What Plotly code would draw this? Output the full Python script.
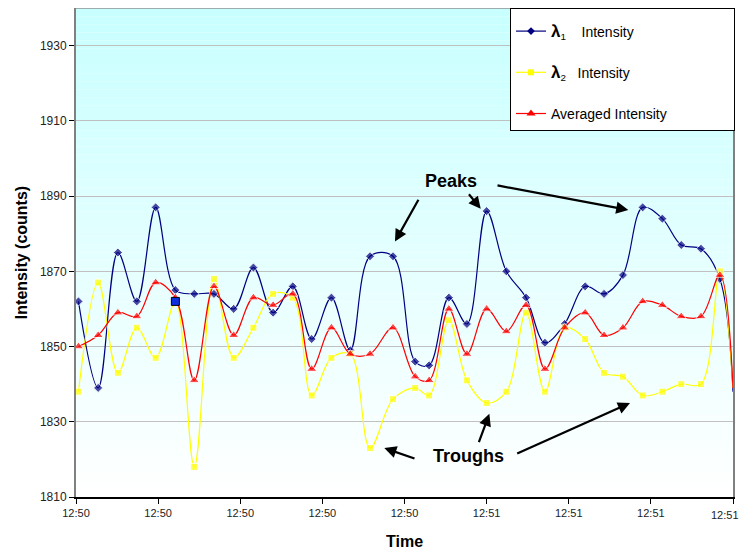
import plotly.graph_objects as go

# ---- data ----
time_s = [0.3, 2.7, 5.1, 7.4, 9.7, 12.1, 14.4, 16.8, 19.2, 21.6, 24.0, 26.4, 28.7,
          31.1, 33.4, 35.8, 38.6, 41.3, 43.0, 45.4, 47.6, 50.0, 52.4, 54.8, 57.1,
          59.5, 62.0, 64.3, 66.6, 69.0, 71.4, 73.7, 76.1, 78.4, 80.0]

lambda1 = [1862, 1839, 1875, 1862, 1887, 1865, 1864, 1864, 1860, 1871, 1859, 1866, 1852,
           1863, 1849, 1874, 1874, 1846, 1845, 1863, 1856, 1886, 1870, 1863, 1851,
           1856, 1866, 1864, 1869, 1887, 1884, 1877, 1876, 1868, 1838]

lambda2 = [1838, 1867, 1843, 1855, 1847, 1862, 1818, 1868, 1847, 1855, 1864, 1863, 1837,
           1847, 1848, 1823, 1836, 1839, 1837, 1857, 1841, 1835, 1838, 1859, 1838,
           1855, 1852, 1843, 1842, 1837, 1838, 1840, 1840, 1870, 1839]

averaged = [1850, 1853, 1859, 1858, 1867, 1863, 1841, 1866, 1853, 1863, 1861, 1864, 1844,
            1855, 1848, 1848, 1855, 1842, 1841, 1860, 1848, 1860, 1854, 1861, 1844,
            1855, 1859, 1853, 1855, 1862, 1861, 1858, 1858, 1869, 1839]

tick_vals = [0, 10, 20, 30, 40, 50, 60, 70, 80]
tick_text = ["12:50", "12:50", "12:50", "12:50", "12:50", "12:51", "12:51", "12:51", "12:51"]
y_ticks = [1810, 1830, 1850, 1870, 1890, 1910, 1930]
selected_idx = 5  # the highlighted (selected) point of the λ2 series

FONT = "Arial, Liberation Sans, sans-serif"
NB = "\u00a0"

# the last tick label is drawn as an annotation so it stays inside the window
shown_ticks = tick_text[:-1] + [""]

series = [
    dict(y=lambda1, name="<span style='font-size:17px'><b>λ</b></span><sub>1</sub>" + NB * 4 + "Intensity",
         color="#000080", symbol="diamond", size=7),
    dict(y=lambda2, name="<span style='font-size:17px'><b>λ</b></span><sub>2</sub>" + NB * 3 + "Intensity",
         color="#FFFF00", symbol="square", size=7),
    dict(y=averaged, name="Averaged Intensity" + NB * 16,
         color="#FF0000", symbol="triangle-up", size=9),
]

fig = go.Figure()
n = len(time_s)
for i, s in enumerate(series):
    sizes = [s["size"]] * (n - 1) + [0]
    fig.add_trace(go.Scatter(
        x=time_s, y=s["y"], mode="lines+markers", showlegend=False,
        line=dict(color=s["color"], width=1.2, shape="spline", smoothing=1.0),
        marker=dict(symbol=s["symbol"], size=sizes, color=s["color"]),
    ))
# selected point highlight
fig.add_trace(go.Scatter(
    x=[time_s[selected_idx]], y=[lambda2[selected_idx]], mode="markers", showlegend=False,
    marker=dict(symbol="square", size=8, color="#1030E0", line=dict(color="black", width=1)),
))
# legend entries
for i, s in enumerate(series):
    fig.add_trace(go.Scatter(
        x=[None], y=[None], mode="lines+markers", name=s["name"], legendgroup=f"g{i}",
        line=dict(color=s["color"], width=1.2),
        marker=dict(symbol=s["symbol"], size=s["size"] - 1, color=s["color"]),
    ))

# gradient background (cyan at top -> white at bottom)
shapes = []
nb = 60
for i in range(nb):
    f = i / (nb - 1)
    r = int(round(200 + (255 - 200) * f))
    shapes.append(dict(type="rect", xref="x domain", yref="y domain",
                       x0=0, x1=1, y0=1 - (i + 1) / nb, y1=1 - i / nb,
                       fillcolor=f"rgb({r},255,255)", line=dict(width=0), layer="below"))
shapes.append(dict(type="line", xref="x domain", yref="y domain", x0=0, x1=1, y0=1, y1=1,
                   line=dict(color="#909090", width=1.5), layer="above"))

annotations = []
def text_ann(x, y, t):
    annotations.append(dict(x=x, y=y, xref="x", yref="y", text=f"<b>{t}</b>", showarrow=False,
                            font=dict(family=FONT, size=18, color="black")))
def arrow(x0, y0, x1, y1):
    annotations.append(dict(x=x1, y=y1, ax=x0, ay=y0, xref="x", yref="y", axref="x", ayref="y",
                            text="", showarrow=True, arrowhead=2, arrowsize=1.1,
                            arrowwidth=2.2, arrowcolor="black", standoff=0, startstandoff=0))

text_ann(45.66, 1893.9, "Peaks")
arrow(41.80, 1889.4, 38.84, 1877.9)
arrow(47.70, 1890.9, 49.28, 1886.6)
arrow(51.14, 1892.9, 67.25, 1886.3)
text_ann(47.77, 1820.8, "Troughs")
arrow(41.40, 1820.1, 37.54, 1823.0)
arrow(48.99, 1824.2, 50.33, 1832.1)
arrow(53.54, 1821.4, 67.46, 1835.0)

# last time label
annotations.append(dict(x=tick_vals[-1], y=0, xref="x", yref="paper", text=tick_text[-1],
                        showarrow=False, xanchor="right", yanchor="middle",
                        xshift=7, yshift=-18, borderpad=0,
                        font=dict(family=FONT, size=11, color="#222222")))

fig.update_layout(
    width=740, height=545,
    margin=dict(l=68, r=15, t=0, b=56),
    paper_bgcolor="white", plot_bgcolor="white",
    font=dict(family=FONT, size=12, color="#222222"),
    shapes=shapes, annotations=annotations,
    showlegend=True,
    legend=dict(x=0.6606, y=1.0, xanchor="left", yanchor="top",
                bgcolor="white", bordercolor="black", borderwidth=1,
                font=dict(family=FONT, size=14, color="black"),
                title=dict(text=NB, font=dict(size=5)),
                tracegroupgap=20, itemsizing="trace"),
    xaxis=dict(range=[0, 80], tickvals=tick_vals, ticktext=shown_ticks,
               showgrid=False, zeroline=False, showline=True, linecolor="black", linewidth=1.5,
               ticks="outside", ticklen=5, tickcolor="black",
               tickfont=dict(family=FONT, size=11, color="#222222"),
               title=dict(text="<b>Time</b>", font=dict(family=FONT, size=16, color="black"),
                          standoff=18)),
    yaxis=dict(range=[1810, 1940], tickvals=y_ticks,
               showgrid=True, gridcolor="#C0C0C0", gridwidth=1, zeroline=False,
               showline=True, linecolor="#808080", linewidth=2, mirror=True,
               ticks="outside", ticklen=5, tickcolor="black",
               tickfont=dict(family=FONT, size=12, color="#222222"),
               title=dict(text="<b>Intensity (counts)</b>",
                          font=dict(family=FONT, size=16, color="black"), standoff=8)),
)

fig.write_html("out.html")
